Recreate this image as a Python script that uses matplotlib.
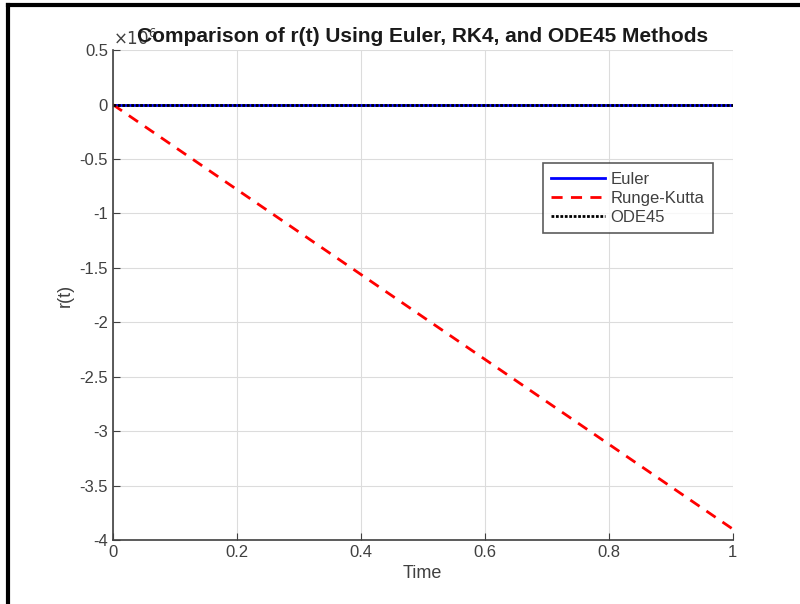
import numpy as np
import matplotlib.pyplot as plt
from matplotlib.lines import Line2D

plt.rcParams['font.family'] = ['Liberation Sans', 'DejaVu Sans']

# Data (r values in units of 1e6)
t = [0.0, 0.25, 0.5, 0.75, 1.0]
r_euler = [0.0, 0.0, 0.0, 0.0, 0.0]
r_rk4 = [0.0, -0.975, -1.95, -2.925, -3.9]
r_ode45 = [0.0, 0.0, 0.0, 0.0, 0.0]

x_ticks = [0, 0.2, 0.4, 0.6, 0.8, 1]
x_labels = ['0', '0.2', '0.4', '0.6', '0.8', '1']
y_ticks = [0.5, 0, -0.5, -1, -1.5, -2, -2.5, -3, -3.5, -4]
y_labels = ['0.5', '0', '-0.5', '-1', '-1.5', '-2', '-2.5', '-3', '-3.5', '-4']

fig = plt.figure(figsize=(8, 6.04), dpi=100)
ax = fig.add_axes([0.141, 0.106, 0.775, 0.811])

ax.plot(t, r_euler, color='#0000ff', linewidth=2, label='Euler')
ax.plot(t, r_rk4, color='#ff0000', linewidth=2, linestyle=(0, (4, 3)), label='Runge-Kutta')
ax.plot(t, r_ode45, color='black', linewidth=2, linestyle=(0, (1, 0.6)), label='ODE45')

ax.set_xlim(0, 1)
ax.set_ylim(-4, 0.5)
ax.set_xticks(x_ticks)
ax.set_xticklabels(x_labels)
ax.set_yticks(y_ticks)
ax.set_yticklabels(y_labels)

ax.grid(True, color='#dcdcdc', linewidth=0.8)
ax.set_axisbelow(True)
for s in ['top', 'right']:
    ax.spines[s].set_visible(False)
for s in ['left', 'bottom']:
    ax.spines[s].set_color('#404040')
    ax.spines[s].set_linewidth(1.2)
ax.tick_params(direction='in', labelsize=12, colors='#404040', length=5)

ax.set_xlabel('Time', fontsize=13, color='#404040')
ax.set_ylabel('r(t)', fontsize=13, color='#404040')
ax.set_title('Comparison of r(t) Using Euler, RK4, and ODE45 Methods',
             fontsize=15, fontweight='bold', color='#1a1a1a', pad=6)

# exponent label like MATLAB (sits under the title start, as in the original)
ax.text(0.0, 1.005, r'$\times10^{6}$', transform=ax.transAxes, fontsize=12,
        color='#404040', ha='left', va='bottom')

leg = ax.legend(loc='upper left', bbox_to_anchor=(0.694, 0.769), fontsize=12,
                frameon=True, fancybox=False, edgecolor='#333333',
                handlelength=3.2, borderpad=0.5, labelspacing=0.25,
                handletextpad=0.35, borderaxespad=0)
leg.get_frame().set_linewidth(1.2)
for txt in leg.get_texts():
    txt.set_color('#404040')

# screenshot frame on top and left
fig.add_artist(Line2D([0.01, 1.0], [0.992, 0.992], color='black', linewidth=3,
                      transform=fig.transFigure))
fig.add_artist(Line2D([0.01, 0.01], [0.0, 0.992], color='black', linewidth=3,
                      transform=fig.transFigure))

fig.savefig('out.png', dpi=100)
